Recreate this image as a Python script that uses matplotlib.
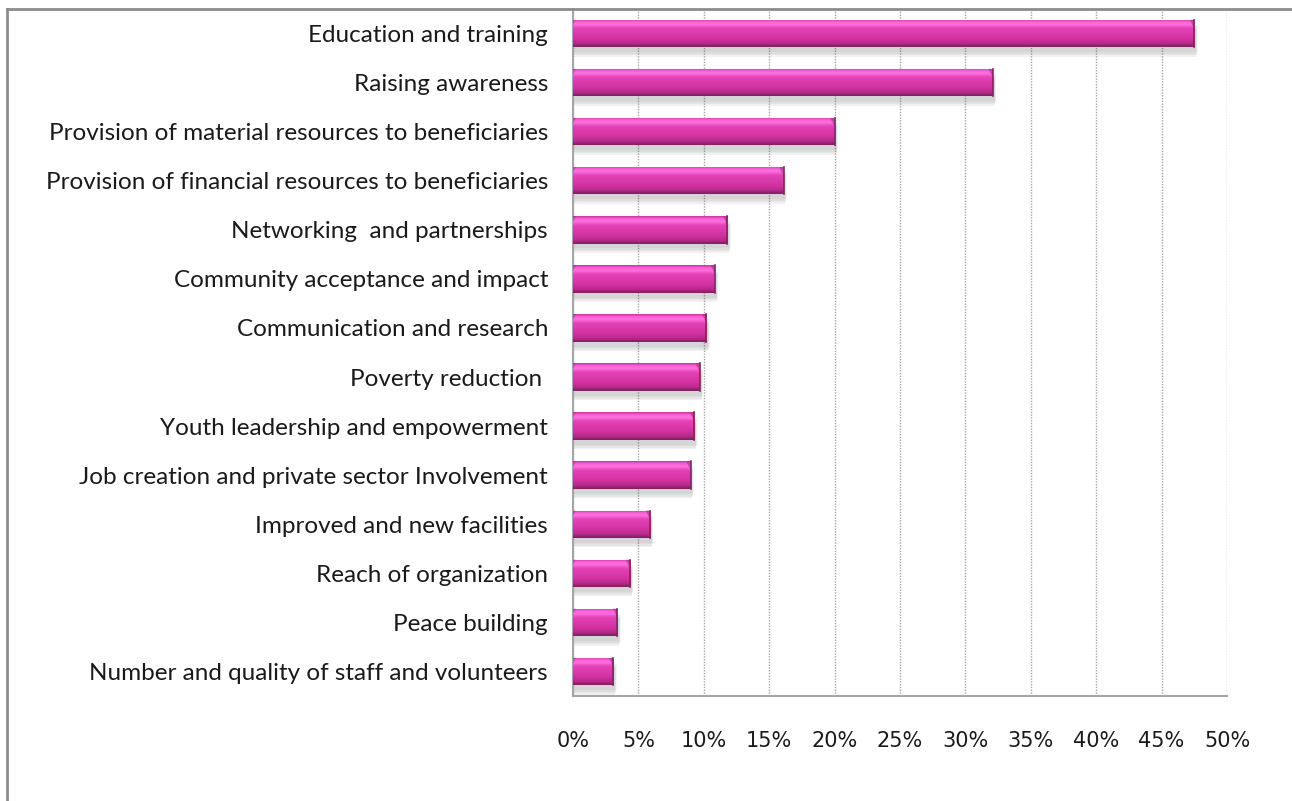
import matplotlib.pyplot as plt
import numpy as np
from matplotlib.colors import LinearSegmentedColormap
from matplotlib.lines import Line2D
from matplotlib.ticker import PercentFormatter

categories = [
    "Education and training",
    "Raising awareness",
    "Provision of material resources to beneficiaries",
    "Provision of financial resources to beneficiaries",
    "Networking  and partnerships",
    "Community acceptance and impact",
    "Communication and research",
    "Poverty reduction ",
    "Youth leadership and empowerment",
    "Job creation and private sector Involvement",
    "Improved and new facilities",
    "Reach of organization",
    "Peace building",
    "Number and quality of staff and volunteers",
]
values = [47.5, 32.1, 20.0, 16.1, 11.8, 10.85, 10.2, 9.7, 9.27, 9.0, 5.9, 4.36, 3.39, 3.08]
xticks = [0, 5, 10, 15, 20, 25, 30, 35, 40, 45, 50]

fig = plt.figure(figsize=(12.92, 8.01), dpi=100)
ax = fig.add_axes([0.4435, 0.131, 0.5062, 0.8578])

# outer frame (only the top and left edges show)
fig.add_artist(Line2D([0.0055, 0.0055], [0, 0.9888], transform=fig.transFigure,
                      color="#8c8c8c", lw=2))
fig.add_artist(Line2D([0.0055, 1], [0.9888, 0.9888], transform=fig.transFigure,
                      color="#8c8c8c", lw=2))

# vertical shading of the bars, top to bottom
shade = LinearSegmentedColormap.from_list("shade", [
    (0.0, "#c8309a"),
    (0.07, "#f55cd2"),
    (0.18, "#ff72e0"),
    (0.33, "#e442b8"),
    (0.7, "#d2329f"),
    (0.88, "#b42a8a"),
    (1.0, "#7a1f5e"),
])
grad = np.linspace(0, 1, 64).reshape(-1, 1)

y = np.arange(len(categories))
h = 0.56
for yi, v in zip(y, values):
    # soft drop shadow
    for k, a in enumerate([0.06, 0.06, 0.07, 0.08]):
        off = 0.05 + 0.03 * k
        ax.barh(yi + off + 0.05, v + 0.2 - 0.04 * k, height=h, left=0.05,
                color="#555555", alpha=a, lw=0, zorder=1)
    bar = ax.barh(yi, v, height=h, color="#d2329f", lw=0, zorder=2)[0]
    im = ax.imshow(grad, extent=[0, v, yi + h / 2, yi - h / 2], cmap=shade,
                   aspect="auto", zorder=3, interpolation="bicubic")
    im.set_clip_path(bar)
    # bevelled ends
    d = 0.35
    ax.fill([v, v - d, v], [yi - h / 2, yi - h / 2, yi - h / 2 + 0.18],
            color="#a0307f", alpha=0.55, lw=0, zorder=4)
    ax.fill([0, d * 0.6, 0], [yi - h / 2, yi - h / 2, yi - h / 2 + 0.12],
            color="#8e2a70", alpha=0.4, lw=0, zorder=4)
    ax.plot([v, v], [yi - h / 2, yi + h / 2], color="#86245f", lw=1.2, zorder=4)

ax.set_xlim(0, 50)
ax.set_ylim(len(categories) - 0.5, -0.5)
ax.set_xticks(xticks)
ax.xaxis.set_major_formatter(PercentFormatter(decimals=0))
ax.set_yticks(y)
ax.set_yticklabels(categories, family=["Lato", "DejaVu Sans"], fontsize=17.5,
                   color="#1a1a1a")
ax.tick_params(axis="y", length=0, pad=18)
ax.tick_params(axis="x", length=0, pad=25, labelsize=15, labelcolor="#1a1a1a")
ax.set_axisbelow(True)
ax.grid(axis="x", ls=(0, (1, 1)), color="#a6a6a6", lw=1)

for side in ["top", "right"]:
    ax.spines[side].set_visible(False)
for side in ["left", "bottom"]:
    ax.spines[side].set_color("#a6a6a6")
    ax.spines[side].set_linewidth(1.5)

fig.savefig("out.png", dpi=100)
